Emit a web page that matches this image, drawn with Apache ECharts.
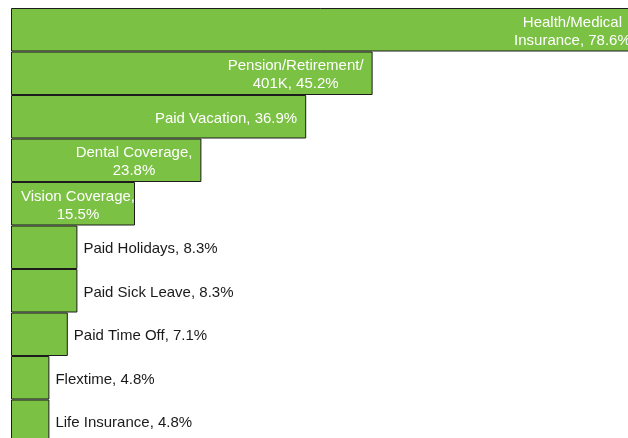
<!DOCTYPE html>
<html>
<head>
<meta charset="UTF-8">
<title></title>
<script src="https://cdn.jsdelivr.net/npm/echarts@6/dist/echarts.min.js"></script>
<style type="text/css">
	*{margin:0;padding:0;}
	body{background:#fff;}
	#main{width:628px;height:438px;}
</style>
</head>
<body>
<div id="main"></div>
<script type="text/javascript">
// benefits, top to bottom
var categories = ['Health/Medical\nInsurance', 'Pension/Retirement/\n401K', 'Paid Vacation', 'Dental Coverage,\n', 'Vision Coverage,\n',
	'Paid Holidays', 'Paid Sick Leave', 'Paid Time Off', 'Flextime', 'Life Insurance'];
var values = [78.6, 45.2, 36.9, 23.8, 15.5, 8.3, 8.3, 7.1, 4.8, 4.8];

var myChart = echarts.init(document.getElementById('main'));

function labelText(name, v){
	var txt;
	if (name.charAt(name.length - 1) == '\n') {
		txt = name + v + '%';
	} else {
		txt = name + ', ' + v + '%';
	}
	// centre every line inside the label block
	return txt.split('\n').map(function(s){ return '{c|' + s + '}'; }).join('\n');
}

var seriesData = [];
for (var i = 0; i < values.length; i++) {
	var inside = values[i] >= 10;
	var dist = 6;
	if (inside) {
		dist = values[i] < 20 ? 0 : 9;   // narrow bar: label fills it
	}
	seriesData.push({
		value: values[i],
		label: {
			show: true,
			position: inside ? 'insideRight' : 'right',
			distance: dist,
			offset: [0, 2],
			formatter: labelText(categories[i], values[i]),
			rich: {
				c: {
					align: 'center',
					fontSize: 15,
					lineHeight: 18,
					fontFamily: 'Liberation Sans, Arial, sans-serif',
					color: inside ? '#ffffff' : '#1a1a1a'
				}
			}
		}
	});
}

var option = {
	animation: false,
	grid: {left: 11, top: 8, width: 640, height: 435, outerBoundsMode: 'none', containLabel: false},
	xAxis: {
		type: 'value',
		min: 0,
		max: 80,
		show: false,
		splitLine: {show: false}
	},
	yAxis: {
		type: 'category',
		inverse: true,
		data: categories,
		show: false
	},
	series: [{
		type: 'bar',
		barCategoryGap: 0,
		itemStyle: {
			color: '#7bc143',
			borderColor: '#1c1c1c',
			borderWidth: 1
		},
		data: seriesData
	}]
};
myChart.setOption(option);
</script>
</body>
</html>
